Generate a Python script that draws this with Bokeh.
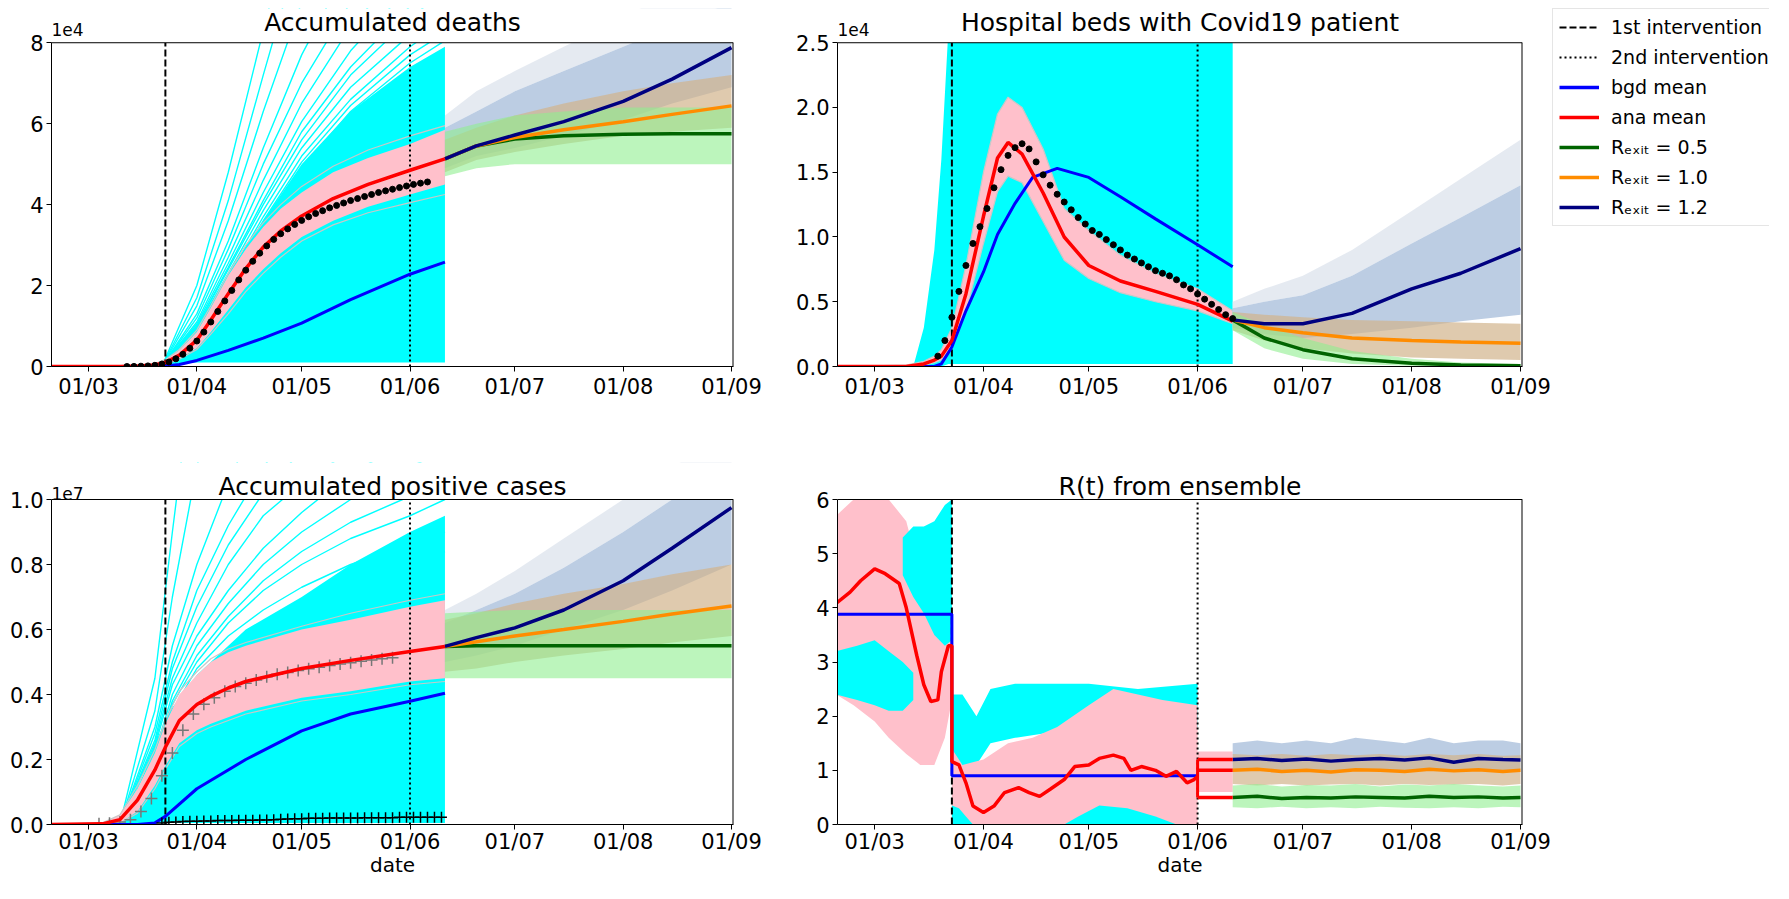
import pandas as pd
from bokeh.plotting import figure
from bokeh.models import (Range1d, FixedTicker, DatetimeTickFormatter, PrintfTickFormatter,
                          Span, Label, Legend, LegendItem)
from bokeh.layouts import row, column
from bokeh.embed import file_html
from bokeh.resources import INLINE

FONT = "DejaVu Sans"

# ---------------- common axis data ----------------
TICK_DATES = ["2020-03-01", "2020-04-01", "2020-05-01", "2020-06-01",
              "2020-07-01", "2020-08-01", "2020-09-01"]
INTERVENTION_1 = "2020-03-23"
INTERVENTION_2 = "2020-06-01"
X_START = "2020-02-19 09:50"
X_END = "2020-09-01 13:40"
PROJ_DATES = ["2020-06-11", "2020-06-20", "2020-07-01", "2020-07-15",
              "2020-08-01", "2020-08-15", "2020-09-01"]

# ---------------- panel 1: accumulated deaths (units 1e4) ----------------
DEATH_ANA_DATES = ["2020-02-19", "2020-03-10", "2020-03-15", "2020-03-20", "2020-03-23",
                   "2020-03-27", "2020-04-01", "2020-04-05", "2020-04-10", "2020-04-15",
                   "2020-04-20", "2020-04-25", "2020-05-01", "2020-05-10", "2020-05-20",
                   "2020-06-01", "2020-06-11"]
deaths_ana_mean = [0.0, 0.003, 0.01, 0.04, 0.1, 0.28, 0.65, 1.15, 1.8, 2.42, 2.95, 3.35,
                   3.72, 4.15, 4.5, 4.85, 5.13]
deaths_ana_lo = [0.0, 0.0, 0.005, 0.02, 0.06, 0.2, 0.45, 0.85, 1.4, 1.95, 2.4, 2.8, 3.2,
                 3.6, 3.95, 4.25, 4.5]
deaths_ana_hi = [0.005, 0.01, 0.02, 0.07, 0.16, 0.4, 0.85, 1.45, 2.25, 2.9, 3.45, 3.9,
                 4.3, 4.8, 5.15, 5.5, 5.85]
deaths_grey_a = [0.0, 0.0, 0.005, 0.02, 0.05, 0.18, 0.42, 0.8, 1.3, 1.85, 2.3, 2.7, 3.1,
                 3.5, 3.8, 4.05, 4.25]
deaths_grey_b = [0.005, 0.01, 0.02, 0.07, 0.17, 0.42, 0.9, 1.5, 2.3, 3.0, 3.55, 4.0,
                 4.45, 4.95, 5.35, 5.7, 5.95]
DEATH_BGD_DATES = ["2020-02-19", "2020-03-20", "2020-03-23", "2020-03-27", "2020-04-01",
                   "2020-04-10", "2020-04-20", "2020-05-01", "2020-05-15", "2020-06-01",
                   "2020-06-11"]
deaths_bgd_mean = [0.0, 0.0, 0.01, 0.05, 0.15, 0.4, 0.7, 1.07, 1.65, 2.28, 2.58]
DEATH_CYAN_DATES = ["2020-03-21", "2020-03-25", "2020-04-01", "2020-04-10", "2020-04-20",
                    "2020-05-01", "2020-05-15", "2020-06-01", "2020-06-11"]
deaths_cyan_lo = [0.0, 0.05, 0.1, 0.1, 0.1, 0.1, 0.1, 0.1, 0.1]
deaths_cyan_hi = [0.0, 0.35, 1.0, 2.3, 3.6, 5.0, 6.3, 7.4, 7.9]
DEATH_CLINE_DATES = ["2020-03-22", "2020-04-01", "2020-04-10", "2020-04-20", "2020-05-01",
                     "2020-05-15", "2020-06-01", "2020-06-11"]
deaths_cyan_lines = [
    [0, 2.0, 4.8, 8.3, 12, 16, 20, 22],
    [0, 1.7, 4.1, 7.2, 10.5, 14, 17, 19],
    [0, 1.5, 3.6, 6.3, 9.0, 12, 15, 17],
    [0, 1.3, 3.1, 5.4, 7.7, 10, 12, 13],
    [0, 1.2, 2.9, 5.0, 7.0, 9.0, 11, 12],
    [0, 1.1, 2.7, 4.6, 6.5, 8.4, 10, 11],
    [0, 1.05, 2.55, 4.3, 6.05, 7.8, 9.4, 10.2],
    [0, 1.0, 2.45, 4.1, 5.8, 7.4, 8.9, 9.6],
    [0, 1.0, 2.4, 4.0, 5.6, 7.2, 8.6, 9.3],
    [0, 0.95, 2.3, 3.85, 5.4, 6.9, 8.2, 8.8],
    [0, 0.9, 2.2, 3.7, 5.2, 6.6, 7.9, 8.5],
    [0, 0.9, 2.15, 3.6, 5.05, 6.45, 7.7, 8.25],
    [0, 0.85, 2.1, 3.5, 4.9, 6.3, 7.5, 8.05],
]
DEATH_OBS_START = "2020-03-12"  # observations every 2 days
deaths_obs = [0.0, 0.003, 0.008, 0.015, 0.03, 0.06, 0.11, 0.19, 0.3, 0.45,
              0.63, 0.85, 1.1, 1.36, 1.62, 1.88, 2.14, 2.38, 2.6, 2.8, 2.98, 3.14, 3.28,
              3.4, 3.51, 3.61, 3.7, 3.78, 3.85, 3.92, 3.98, 4.04, 4.1, 4.15, 4.2, 4.25,
              4.3, 4.34, 4.38, 4.42, 4.46, 4.5, 4.53, 4.56]
deaths_r05 = [5.13, 5.45, 5.62, 5.70, 5.74, 5.75, 5.75]
deaths_r10 = [5.13, 5.45, 5.66, 5.85, 6.05, 6.23, 6.44]
deaths_r12 = [5.13, 5.45, 5.72, 6.05, 6.55, 7.1, 7.88]
deaths_r05_lo = [4.7, 4.9, 5.0, 5.0, 5.0, 5.0, 5.0]
deaths_r05_hi = [5.8, 6.0, 6.2, 6.3, 6.4, 6.4, 6.4]
deaths_r10_lo = [4.8, 5.1, 5.3, 5.5, 5.7, 5.8, 5.9]
deaths_r10_hi = [5.6, 5.9, 6.2, 6.5, 6.8, 7.0, 7.2]
deaths_r12_lo = [4.9, 5.2, 5.4, 5.7, 6.1, 6.5, 6.9]
deaths_r12_hi = [5.9, 6.3, 6.8, 7.3, 7.9, 8.4, 9.0]
deaths_r12_faint = [6.2, 6.8, 7.3, 7.9, 8.6, 9.3, 10.0]

# ---------------- panel 2: hospital beds (units 1e4) ----------------
HOSP_ANA_DATES = ["2020-02-19", "2020-03-10", "2020-03-15", "2020-03-18", "2020-03-20",
                  "2020-03-23", "2020-03-27", "2020-04-01", "2020-04-05", "2020-04-08",
                  "2020-04-12", "2020-04-18", "2020-04-24", "2020-05-01", "2020-05-10",
                  "2020-05-20", "2020-06-01", "2020-06-11"]
hosp_ana_mean = [0.0, 0.0, 0.02, 0.05, 0.08, 0.2, 0.56, 1.16, 1.61, 1.73, 1.64, 1.34, 1.0,
                 0.78, 0.66, 0.58, 0.48, 0.35]
hosp_ana_lo = [0.0, 0.0, 0.01, 0.03, 0.05, 0.14, 0.42, 0.95, 1.35, 1.47, 1.42, 1.12, 0.82,
               0.68, 0.57, 0.5, 0.43, 0.33]
hosp_ana_hi = [0.0, 0.01, 0.04, 0.08, 0.13, 0.3, 0.78, 1.5, 1.95, 2.08, 2.0, 1.68, 1.22,
               1.05, 0.86, 0.72, 0.6, 0.43]
HOSP_BGD_DATES = ["2020-02-19", "2020-03-18", "2020-03-20", "2020-03-23", "2020-03-27",
                  "2020-04-01", "2020-04-05", "2020-04-10", "2020-04-15", "2020-04-22",
                  "2020-05-01", "2020-05-10", "2020-05-20", "2020-06-01", "2020-06-11"]
hosp_bgd_mean = [0.0, 0.0, 0.02, 0.15, 0.43, 0.73, 1.02, 1.26, 1.46, 1.53, 1.46, 1.31,
                 1.14, 0.94, 0.77]
HOSP_CYAN_DATES = ["2020-03-12", "2020-03-15", "2020-03-18", "2020-03-20", "2020-03-22",
                   "2020-06-11"]
hosp_cyan_lo = [0.0, 0.0, 0.0, 0.0, 0.02, 0.02]
hosp_cyan_hi = [0.0, 0.3, 0.9, 1.6, 2.6, 2.6]
HOSP_OBS_START = "2020-03-19"  # observations every 2 days
hosp_obs = [0.08, 0.2, 0.38, 0.58, 0.78, 0.95, 1.08, 1.22, 1.38, 1.52, 1.63, 1.69, 1.72,
            1.68, 1.58, 1.48, 1.4, 1.33, 1.27, 1.21, 1.15, 1.1, 1.05, 1.02, 0.98, 0.94,
            0.9, 0.86, 0.83, 0.8, 0.77, 0.74, 0.72, 0.7, 0.67, 0.63, 0.6, 0.56, 0.52,
            0.48, 0.44, 0.4, 0.37]
hosp_r05 = [0.36, 0.22, 0.13, 0.06, 0.025, 0.012, 0.006]
hosp_r10 = [0.36, 0.3, 0.26, 0.22, 0.2, 0.19, 0.18]
hosp_r12 = [0.36, 0.33, 0.33, 0.41, 0.6, 0.72, 0.91]
hosp_r05_lo = [0.28, 0.14, 0.06, 0.02, 0.005, 0.0, 0.0]
hosp_r05_hi = [0.42, 0.32, 0.22, 0.12, 0.06, 0.03, 0.02]
hosp_r10_lo = [0.28, 0.2, 0.14, 0.1, 0.07, 0.06, 0.05]
hosp_r10_hi = [0.42, 0.4, 0.38, 0.36, 0.35, 0.34, 0.33]
hosp_r12_lo = [0.3, 0.25, 0.22, 0.25, 0.3, 0.35, 0.4]
hosp_r12_hi = [0.45, 0.5, 0.55, 0.7, 0.95, 1.15, 1.4]
hosp_r12_faint = [0.5, 0.6, 0.7, 0.9, 1.2, 1.45, 1.75]

# ---------------- panel 3: accumulated positive cases (units 1e7) ----------------
CASES_ANA_DATES = ["2020-02-19", "2020-03-05", "2020-03-10", "2020-03-15", "2020-03-20",
                   "2020-03-23", "2020-03-27", "2020-04-01", "2020-04-05", "2020-04-10",
                   "2020-04-15", "2020-05-01", "2020-05-15", "2020-06-01", "2020-06-11"]
cases_ana_mean = [0.0, 0.002, 0.015, 0.075, 0.168, 0.238, 0.32, 0.369, 0.395, 0.42, 0.44,
                  0.48, 0.505, 0.532, 0.548]
cases_ana_lo = [0.0, 0.0, 0.005, 0.04, 0.12, 0.18, 0.25, 0.29, 0.31, 0.33, 0.35, 0.39,
                0.41, 0.44, 0.45]
cases_ana_hi = [0.0, 0.005, 0.03, 0.11, 0.22, 0.31, 0.4, 0.46, 0.5, 0.53, 0.55, 0.6, 0.63,
                0.67, 0.69]
cases_grey_a = [0.0, 0.0, 0.004, 0.035, 0.11, 0.17, 0.24, 0.28, 0.3, 0.32, 0.34, 0.38,
                0.4, 0.43, 0.44]
cases_grey_b = [0.0, 0.005, 0.03, 0.12, 0.23, 0.32, 0.41, 0.47, 0.51, 0.54, 0.56, 0.61,
                0.65, 0.69, 0.71]
CASES_BGD_DATES = ["2020-02-19", "2020-03-15", "2020-03-20", "2020-03-23", "2020-04-01",
                   "2020-04-15", "2020-05-01", "2020-05-15", "2020-06-01", "2020-06-11"]
cases_bgd_mean = [0.0, 0.0, 0.005, 0.025, 0.11, 0.2, 0.288, 0.34, 0.379, 0.404]
CASES_CYAN_DATES = ["2020-03-08", "2020-03-15", "2020-03-20", "2020-03-25", "2020-04-01",
                    "2020-04-15", "2020-05-01", "2020-05-15", "2020-06-01", "2020-06-11"]
cases_cyan_lo = [0.0, 0.005, 0.005, 0.005, 0.005, 0.005, 0.005, 0.005, 0.005, 0.005]
cases_cyan_hi = [0.0, 0.1, 0.25, 0.36, 0.46, 0.6, 0.7, 0.8, 0.9, 0.95]
CASES_CLINE_DATES = ["2020-03-10", "2020-03-20", "2020-03-25", "2020-04-01", "2020-04-10",
                     "2020-04-20", "2020-05-01", "2020-05-15", "2020-06-01", "2020-06-11"]
cases_cyan_lines = [
    [0, 0.45, 0.9, 1.5, 2.2, 2.8, 3.3, 3.8, 4.2, 4.5],
    [0, 0.35, 0.7, 1.1, 1.5, 1.9, 2.2, 2.5, 2.8, 3.0],
    [0, 0.3, 0.55, 0.8, 1.05, 1.3, 1.5, 1.7, 1.9, 2.0],
    [0, 0.28, 0.5, 0.72, 0.92, 1.1, 1.25, 1.4, 1.55, 1.6],
    [0, 0.26, 0.48, 0.67, 0.86, 1.02, 1.15, 1.28, 1.4, 1.45],
    [0, 0.25, 0.45, 0.62, 0.8, 0.95, 1.05, 1.15, 1.25, 1.3],
    [0, 0.24, 0.43, 0.58, 0.72, 0.85, 0.96, 1.08, 1.18, 1.22],
    [0, 0.22, 0.4, 0.55, 0.68, 0.8, 0.9, 1.0, 1.1, 1.15],
    [0, 0.21, 0.38, 0.52, 0.64, 0.75, 0.84, 0.93, 1.01, 1.05],
    [0, 0.2, 0.37, 0.5, 0.62, 0.72, 0.8, 0.88, 0.95, 1.0],
    [0, 0.2, 0.35, 0.48, 0.58, 0.66, 0.73, 0.8, 0.86, 0.9],
    [0, 0.19, 0.33, 0.45, 0.54, 0.62, 0.68, 0.74, 0.8, 0.84],
]
CASES_GREY_OBS_START = "2020-03-04"  # every 3 days
cases_grey_obs = [0.002, 0.004, 0.008, 0.015, 0.04, 0.08, 0.15, 0.22, 0.29, 0.34, 0.37,
                  0.39, 0.41, 0.425, 0.435, 0.445, 0.455, 0.462, 0.468, 0.474, 0.479,
                  0.484, 0.489, 0.494, 0.498, 0.502, 0.506, 0.51, 0.513]
CASES_DAILY_START = "2020-03-22"  # every 2 days
cases_daily_obs = [0.005, 0.007, 0.008, 0.009, 0.01, 0.01, 0.011, 0.011, 0.012, 0.012,
                   0.012, 0.013, 0.013, 0.013, 0.014, 0.014, 0.015, 0.016, 0.017, 0.018,
                   0.018, 0.019, 0.019, 0.019, 0.02, 0.02, 0.02, 0.02, 0.02, 0.021,
                   0.021, 0.021, 0.021, 0.021, 0.022, 0.022, 0.022, 0.022, 0.022, 0.022,
                   0.022]
cases_r05 = [0.548, 0.55, 0.55, 0.55, 0.55, 0.55, 0.55]
cases_r10 = [0.548, 0.562, 0.58, 0.6, 0.625, 0.648, 0.672]
cases_r12 = [0.548, 0.575, 0.605, 0.66, 0.75, 0.85, 0.975]
cases_r05_lo = [0.45, 0.45, 0.45, 0.45, 0.45, 0.45, 0.45]
cases_r05_hi = [0.65, 0.655, 0.66, 0.66, 0.66, 0.66, 0.66]
cases_r10_lo = [0.47, 0.48, 0.5, 0.52, 0.54, 0.56, 0.58]
cases_r10_hi = [0.63, 0.65, 0.68, 0.71, 0.74, 0.77, 0.8]
cases_r12_lo = [0.5, 0.52, 0.55, 0.6, 0.66, 0.72, 0.8]
cases_r12_hi = [0.62, 0.66, 0.71, 0.79, 0.9, 1.0, 1.1]
cases_r12_faint = [0.66, 0.71, 0.78, 0.88, 1.0, 1.1, 1.2]

# ---------------- panel 4: R(t) ----------------
R_ANA_DATES = ["2020-02-19", "2020-02-23", "2020-02-26", "2020-03-01", "2020-03-04",
               "2020-03-08", "2020-03-10", "2020-03-13", "2020-03-15", "2020-03-17",
               "2020-03-19", "2020-03-20", "2020-03-22", "2020-03-23", "2020-03-23",
               "2020-03-25", "2020-03-27", "2020-03-29", "2020-04-01", "2020-04-04",
               "2020-04-07", "2020-04-11", "2020-04-14", "2020-04-17", "2020-04-20",
               "2020-04-24", "2020-04-27", "2020-05-01", "2020-05-04", "2020-05-08",
               "2020-05-11", "2020-05-13", "2020-05-16", "2020-05-20", "2020-05-23",
               "2020-05-26", "2020-05-29", "2020-05-31", "2020-06-01"]
r_ana_mean = [4.08, 4.29, 4.5, 4.72, 4.63, 4.45, 4.0, 3.12, 2.58, 2.27, 2.3, 2.82, 3.3,
              3.3, 1.16, 1.1, 0.77, 0.34, 0.22, 0.34, 0.59, 0.68, 0.59, 0.52, 0.65, 0.83,
              1.07, 1.1, 1.22, 1.28, 1.22, 1.0, 1.07, 1.0, 0.89, 0.98, 0.77, 0.83, 0.89]
R_EXIT_START = "2020-06-01"
R_EXIT_END = "2020-06-11"
r_exit_levels = [1.2, 1.0, 0.5]
R_BGD_DATES = ["2020-02-19", "2020-03-23", "2020-03-23", "2020-06-01"]
r_bgd_mean = [3.88, 3.88, 0.9, 0.9]
R_PINK_PRE_DATES = ["2020-02-19", "2020-02-24", "2020-03-01", "2020-03-05", "2020-03-10",
                    "2020-03-14", "2020-03-18", "2020-03-21", "2020-03-23"]
r_pink_pre_lo = [2.4, 2.2, 1.9, 1.6, 1.3, 1.1, 1.1, 1.6, 2.3]
r_pink_pre_hi = [5.7, 6.0, 6.0, 6.0, 5.6, 4.6, 3.8, 4.2, 4.8]
R_PINK_POST_DATES = ["2020-03-23", "2020-03-26", "2020-04-01", "2020-04-08", "2020-04-15",
                     "2020-04-22", "2020-05-01", "2020-05-08", "2020-05-15", "2020-05-22",
                     "2020-06-01"]
r_pink_post_lo = [0, 0, 0, 0, 0, 0, 0, 0, 0, 0, 0]
r_pink_post_hi = [1.4, 1.1, 1.2, 1.5, 1.6, 1.8, 2.2, 2.5, 2.4, 2.3, 2.2]
R_PINK_EXIT_DATES = ["2020-06-01", "2020-06-11"]
r_pink_exit_lo = [0.6, 0.6]
r_pink_exit_hi = [1.35, 1.35]
R_CYAN_A_DATES = ["2020-02-19", "2020-02-25", "2020-03-01", "2020-03-05", "2020-03-09",
                  "2020-03-12"]
r_cyan_a_lo = [2.4, 2.3, 2.2, 2.1, 2.1, 2.3]
r_cyan_a_hi = [3.2, 3.3, 3.4, 3.2, 3.0, 2.8]
R_CYAN_B_DATES = ["2020-03-09", "2020-03-12", "2020-03-15", "2020-03-18", "2020-03-21",
                  "2020-03-23"]
r_cyan_b_lo = [4.6, 4.2, 3.9, 3.5, 3.3, 3.4]
r_cyan_b_hi = [5.3, 5.5, 5.5, 5.6, 5.9, 6.0]
R_CYAN_C_DATES = ["2020-03-23", "2020-03-26", "2020-03-30", "2020-04-03", "2020-04-10",
                  "2020-04-20", "2020-05-01", "2020-05-15", "2020-06-01"]
r_cyan_c_lo = [1.4, 1.0, 1.1, 1.5, 1.6, 1.7, 1.8, 1.8, 1.8]
r_cyan_c_hi = [2.4, 2.4, 2.0, 2.5, 2.6, 2.6, 2.6, 2.5, 2.6]
R_CYAN_D_DATES = ["2020-03-23", "2020-03-25", "2020-03-27", "2020-03-29"]
r_cyan_d_hi = [0.35, 0.3, 0.15, 0.0]
R_CYAN_E_DATES = ["2020-04-24", "2020-04-28", "2020-05-04", "2020-05-12", "2020-05-20",
                  "2020-05-26"]
r_cyan_e_hi = [0.0, 0.15, 0.35, 0.3, 0.15, 0.0]
R_PROJ_DATES = ["2020-06-11", "2020-06-18", "2020-06-25", "2020-07-02", "2020-07-09",
                "2020-07-16", "2020-07-23", "2020-07-30", "2020-08-06", "2020-08-13",
                "2020-08-20", "2020-08-27", "2020-09-01"]
r_r12 = [1.2, 1.22, 1.18, 1.21, 1.17, 1.2, 1.22, 1.19, 1.23, 1.15, 1.22, 1.2, 1.19]
r_r10 = [1.0, 1.02, 0.98, 1.0, 0.97, 1.01, 1.0, 0.98, 1.02, 0.99, 1.01, 0.98, 1.0]
r_r05 = [0.5, 0.52, 0.48, 0.5, 0.49, 0.51, 0.5, 0.49, 0.52, 0.5, 0.51, 0.49, 0.5]
r_r12_lo = [1.0, 1.0, 0.98, 1.0, 0.97, 1.0, 1.0, 0.98, 1.0, 0.97, 1.0, 1.0, 1.0]
r_r12_hi = [1.5, 1.55, 1.5, 1.55, 1.5, 1.6, 1.55, 1.5, 1.6, 1.5, 1.55, 1.55, 1.5]
r_r10_lo = [0.75, 0.72, 0.75, 0.72, 0.74, 0.75, 0.72, 0.75, 0.73, 0.74, 0.75, 0.72, 0.75]
r_r10_hi = [1.3, 1.28, 1.3, 1.27, 1.3, 1.28, 1.3, 1.27, 1.3, 1.28, 1.3, 1.27, 1.28]
r_r05_lo = [0.32, 0.3, 0.33, 0.3, 0.32, 0.3, 0.33, 0.31, 0.3, 0.32, 0.3, 0.33, 0.32]
r_r05_hi = [0.72, 0.75, 0.7, 0.73, 0.72, 0.75, 0.7, 0.74, 0.72, 0.75, 0.72, 0.7, 0.72]

# ---------------- legend ----------------
LEGEND_LABELS = ["1st intervention", "2nd intervention", "bgd mean", "ana mean",
                 "R\u2091\u2093\u1d62\u209c = 0.5", "R\u2091\u2093\u1d62\u209c = 1.0",
                 "R\u2091\u2093\u1d62\u209c = 1.2"]

# ---------------- colours ----------------
CYAN = "#00ffff"
PINK = "#ffc0cb"
SILVER = "#c8c8c8"
RED = "#ff0000"
BLUE = "#0000ff"
DGREEN = "#006400"
DORANGE = "#ff8c00"
NAVY = "#000080"
LGREEN = "#90ee90"
TAN = "#d2b48c"
LSTEEL = "#b0c4de"
FAINT = "#dfe5ee"

# ---------------- layout (pixels) ----------------
ROW1_H, ROW2_H = 462, 419
ROW1_BOTTOM, ROW2_BOTTOM = 96, 57
ROW1_FRAME_H = ROW1_H - ROW1_BOTTOM
ROW2_FRAME_H = ROW2_H - ROW2_BOTTOM
ROW1_EXT, ROW2_EXT = 35, 37          # space above the axes box, inside the frame
LEFT_W, RIGHT_W, LEG_W = 782, 770, 217


def dl(lst):
    return pd.to_datetime(lst)


def ms(s):
    return pd.Timestamp(s).value / 1e6


class Panel:
    def __init__(self, width, height, bl, br, bb, frame_h, ext, ymax, yticks, yfmt):
        self.ymax = ymax
        self.frame_h = frame_h
        self.ext = ext
        self.frame_w = width - bl - br
        self.y_end = ymax * frame_h / (frame_h - ext)
        p = figure(width=width, height=height, x_axis_type="datetime", output_backend="svg",
                   toolbar_location=None, min_border_left=bl, min_border_right=br,
                   min_border_top=0, min_border_bottom=bb,
                   x_range=Range1d(pd.Timestamp(X_START), pd.Timestamp(X_END)),
                   y_range=Range1d(0, self.y_end))
        for ax in (p.xaxis[0], p.yaxis[0]):
            ax.major_label_text_font = FONT
            ax.major_label_text_font_size = "21px"
            ax.major_label_text_color = "black"
            ax.axis_line_color = "black"
            ax.major_tick_line_color = "black"
            ax.major_tick_in = 0
            ax.major_tick_out = 5
            ax.minor_tick_line_color = None
            ax.major_label_standoff = 3
        p.xaxis.ticker = FixedTicker(ticks=[ms(t) for t in TICK_DATES])
        p.xaxis.formatter = DatetimeTickFormatter(days="%d/%m", months="%d/%m",
                                                  years="%d/%m", hours="%d/%m")
        p.yaxis.ticker = FixedTicker(ticks=yticks)
        p.yaxis.formatter = PrintfTickFormatter(format=yfmt)
        p.yaxis.bounds = (0, ymax)
        p.grid.visible = False
        p.outline_line_color = None
        p.background_fill_color = "white"
        p.border_fill_color = "white"
        self.p = p

    def band(self, dates, lo, hi, color, alpha=1.0):
        return self.p.varea(x=dl(dates), y1=lo, y2=hi, fill_color=color, fill_alpha=alpha)

    def line(self, dates, vals, color, width, alpha=1.0, dash="solid"):
        return self.p.line(x=dl(dates), y=vals, line_color=color, line_width=width,
                           line_alpha=alpha, line_dash=dash)

    def interventions(self):
        self.line([INTERVENTION_1] * 2, [0, self.ymax], "black", 2, dash="7 3")
        self.line([INTERVENTION_2] * 2, [0, self.ymax], "black", 2, dash="2 3")

    def projections(self, lo05, hi05, lo10, hi10, lo12, hi12, faint, m05, m10, m12,
                    dates=PROJ_DATES):
        if faint is not None:
            self.band(dates, hi12, faint, FAINT, 0.8)
        self.band(dates, lo12, hi12, LSTEEL, 0.85)
        self.band(dates, lo10, hi10, TAN, 0.7)
        self.band(dates, lo05, hi05, LGREEN, 0.6)
        r05 = self.line(dates, m05, DGREEN, 3.5)
        r10 = self.line(dates, m10, DORANGE, 3.5)
        r12 = self.line(dates, m12, NAVY, 3.5)
        return r05, r10, r12

    def finish(self, title, offset_text=None, xlabel=None):
        p = self.p
        # hide anything drawn above the axes box, then draw the box's top / right edges
        p.quad(left=[pd.Timestamp(X_START)], right=[pd.Timestamp(X_END)],
               bottom=[self.ymax], top=[self.y_end], fill_color="white", line_color=None)
        self.line([X_END, X_END], [0, self.ymax], "black", 2)
        p.add_layout(Span(location=self.ymax, dimension="width", line_color="black",
                          line_width=1))
        box_h = self.frame_h - self.ext
        p.add_layout(Label(x=self.frame_w / 2, y=box_h + 13, x_units="screen",
                           y_units="screen", text=title, text_font=FONT,
                           text_font_size="25px", text_color="black", text_align="center",
                           text_baseline="alphabetic"))
        if offset_text:
            p.add_layout(Label(x=0, y=box_h + 6, x_units="screen", y_units="screen",
                               text=offset_text, text_font=FONT, text_font_size="17px",
                               text_color="black", text_baseline="alphabetic"))
        if xlabel:
            p.xaxis.major_label_standoff = 0
            p.xaxis.major_label_text_line_height = 1.0
            p.xaxis.axis_label = xlabel
            p.xaxis.axis_label_text_font = FONT
            p.xaxis.axis_label_text_font_size = "20px"
            p.xaxis.axis_label_text_font_style = "normal"
            p.xaxis.axis_label_text_color = "black"
            p.xaxis.axis_label_text_line_height = 1.0
            p.xaxis.axis_label_standoff = -4


# ======================= panel 1 =======================
a1 = Panel(LEFT_W, ROW1_H, 51, 49, ROW1_BOTTOM, ROW1_FRAME_H, ROW1_EXT, 8,
           [0, 2, 4, 6, 8], "%d")
a1.band(DEATH_CYAN_DATES, deaths_cyan_lo, deaths_cyan_hi, CYAN)
for vals in deaths_cyan_lines:
    a1.line(DEATH_CLINE_DATES, vals, CYAN, 1.4)
a1.band(DEATH_ANA_DATES, deaths_ana_lo, deaths_ana_hi, PINK)
a1.line(DEATH_ANA_DATES, deaths_grey_a, SILVER, 1.2)
a1.line(DEATH_ANA_DATES, deaths_grey_b, SILVER, 1.2)
a1.projections(deaths_r05_lo, deaths_r05_hi, deaths_r10_lo, deaths_r10_hi,
               deaths_r12_lo, deaths_r12_hi, deaths_r12_faint, deaths_r05, deaths_r10,
               deaths_r12)
a1.interventions()
a1.line(DEATH_BGD_DATES, deaths_bgd_mean, BLUE, 3)
a1.line(DEATH_ANA_DATES, deaths_ana_mean, RED, 3.5)
a1.p.scatter(x=pd.date_range(DEATH_OBS_START, periods=len(deaths_obs), freq="2D"),
             y=deaths_obs, size=6, color="black")
a1.finish("Accumulated deaths", "1e4")

# ======================= panel 2 =======================
a2 = Panel(RIGHT_W, ROW1_H, 55, 30, ROW1_BOTTOM, ROW1_FRAME_H, ROW1_EXT, 2.5,
           [0, 0.5, 1.0, 1.5, 2.0, 2.5], "%.1f")
a2.band(HOSP_CYAN_DATES, hosp_cyan_lo, hosp_cyan_hi, CYAN)
a2.band(HOSP_ANA_DATES, hosp_ana_lo, hosp_ana_hi, PINK)
a2.line(HOSP_ANA_DATES, hosp_ana_lo, SILVER, 1.2)
a2.line(HOSP_ANA_DATES, hosp_ana_hi, SILVER, 1.2)
a2.projections(hosp_r05_lo, hosp_r05_hi, hosp_r10_lo, hosp_r10_hi, hosp_r12_lo,
               hosp_r12_hi, hosp_r12_faint, hosp_r05, hosp_r10, hosp_r12)
a2.interventions()
a2.line(HOSP_BGD_DATES, hosp_bgd_mean, BLUE, 3)
a2.line(HOSP_ANA_DATES, hosp_ana_mean, RED, 3.5)
a2.p.scatter(x=pd.date_range(HOSP_OBS_START, periods=len(hosp_obs), freq="2D"), y=hosp_obs,
             size=6, color="black")
a2.finish("Hospital beds with Covid19 patient", "1e4")

# ======================= legend (own small figure) =======================
pl = figure(width=LEG_W, height=ROW1_H, output_backend="svg", toolbar_location=None,
            x_axis_location=None, y_axis_location=None, min_border_left=0,
            min_border_right=0, min_border_top=8, min_border_bottom=0,
            x_range=Range1d(0, 1), y_range=Range1d(0, 1))
pl.grid.visible = False
pl.outline_line_color = None
leg_styles = [("black", 2, "7 3"), ("black", 2, "2 3"), (BLUE, 3.5, "solid"),
              (RED, 3.5, "solid"), (DGREEN, 3.5, "solid"), (DORANGE, 3.5, "solid"),
              (NAVY, 3.5, "solid")]
items = []
for (c, w, dsh), lab in zip(leg_styles, LEGEND_LABELS):
    # swatch renderers: data placed outside the (0, 1) view, only the legend shows them
    r = pl.line(x=[5, 6], y=[5, 6], line_color=c, line_width=w, line_dash=dsh)
    items.append(LegendItem(label=lab, renderers=[r]))
legend = Legend(items=items, location="top_left")
legend.label_text_font = FONT
legend.label_text_font_size = "19px"
legend.label_text_color = "black"
legend.glyph_width = 40
legend.glyph_height = 24
legend.label_height = 24
legend.spacing = 6
legend.padding = 6
legend.margin = 0
legend.label_standoff = 12
legend.border_line_color = "#cccccc"
legend.border_line_width = 1
legend.background_fill_color = "white"
legend.background_fill_alpha = 1.0
pl.add_layout(legend)

# ======================= panel 3 =======================
a3 = Panel(LEFT_W, ROW2_H, 51, 49, ROW2_BOTTOM, ROW2_FRAME_H, ROW2_EXT, 1.0,
           [0, 0.2, 0.4, 0.6, 0.8, 1.0], "%.1f")
a3.band(CASES_CYAN_DATES, cases_cyan_lo, cases_cyan_hi, CYAN)
for vals in cases_cyan_lines:
    a3.line(CASES_CLINE_DATES, vals, CYAN, 1.4)
a3.band(CASES_ANA_DATES, cases_ana_lo, cases_ana_hi, PINK)
a3.line(CASES_ANA_DATES, cases_grey_a, SILVER, 1.2)
a3.line(CASES_ANA_DATES, cases_grey_b, SILVER, 1.2)
a3.projections(cases_r05_lo, cases_r05_hi, cases_r10_lo, cases_r10_hi,
               cases_r12_lo, cases_r12_hi, cases_r12_faint, cases_r05, cases_r10, cases_r12)
a3.interventions()
a3.p.scatter(x=pd.date_range(CASES_GREY_OBS_START, periods=len(cases_grey_obs), freq="3D"),
             y=cases_grey_obs, marker="cross", size=12, line_color="#777777", line_width=1.5)
a3.line(CASES_BGD_DATES, cases_bgd_mean, BLUE, 3)
a3.line(CASES_ANA_DATES, cases_ana_mean, RED, 3.5)
a3.p.scatter(x=pd.date_range(CASES_DAILY_START, periods=len(cases_daily_obs), freq="2D"),
             y=cases_daily_obs, marker="cross", size=11, line_color="black", line_width=1.5)
a3.finish("Accumulated positive cases", "1e7", "date")

# ======================= panel 4 =======================
a4 = Panel(RIGHT_W, ROW2_H, 55, 30, ROW2_BOTTOM, ROW2_FRAME_H, ROW2_EXT, 6,
           [0, 1, 2, 3, 4, 5, 6], "%d")
a4.band(R_PINK_PRE_DATES, r_pink_pre_lo, r_pink_pre_hi, PINK)
a4.band(R_CYAN_A_DATES, r_cyan_a_lo, r_cyan_a_hi, CYAN)
a4.band(R_CYAN_B_DATES, r_cyan_b_lo, r_cyan_b_hi, CYAN)
a4.band(R_CYAN_C_DATES, r_cyan_c_lo, r_cyan_c_hi, CYAN)
a4.band(R_PINK_POST_DATES, r_pink_post_lo, r_pink_post_hi, PINK)
a4.band(R_CYAN_D_DATES, [0] * len(R_CYAN_D_DATES), r_cyan_d_hi, CYAN)
a4.band(R_CYAN_E_DATES, [0] * len(R_CYAN_E_DATES), r_cyan_e_hi, CYAN)
a4.band(R_PINK_EXIT_DATES, r_pink_exit_lo, r_pink_exit_hi, PINK)
a4.projections(r_r05_lo, r_r05_hi, r_r10_lo, r_r10_hi, r_r12_lo, r_r12_hi, None,
               r_r05, r_r10, r_r12, dates=R_PROJ_DATES)
a4.interventions()
a4.line(R_BGD_DATES, r_bgd_mean, BLUE, 3)
a4.line(R_ANA_DATES, r_ana_mean, RED, 3.5)
for lev in r_exit_levels:
    a4.line([R_EXIT_START, R_EXIT_END], [lev, lev], RED, 3.5)
a4.line([R_EXIT_START, R_EXIT_START], [min(r_exit_levels), max(r_exit_levels)], RED, 3)
a4.finish("R(t) from ensemble", None, "date")

layout = column(row(a1.p, a2.p, pl), row(a3.p, a4.p))
open("out.html", "w").write(file_html(layout, INLINE))
